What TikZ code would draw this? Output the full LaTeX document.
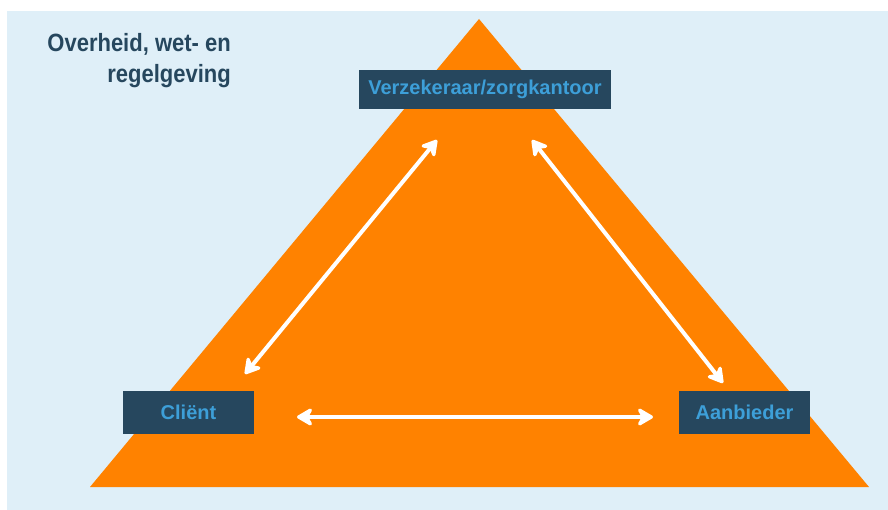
\documentclass[tikz,border=0pt]{standalone}
\usepackage{fontspec}
\setmainfont{Liberation Sans}
\newfontfamily\titlefont[FakeStretch=0.88]{Liberation Sans}
\usetikzlibrary{arrows.meta}
\definecolor{skyback}{HTML}{DFEFF8}
\definecolor{pyramid}{HTML}{FF8200}
\definecolor{navy}{HTML}{26475E}
\definecolor{labelblue}{HTML}{3D9FD8}

\begin{document}
\begin{tikzpicture}[x=1pt,y=-1pt,>={Stealth[length=19pt,width=22pt,inset=6pt,round]},
    party/.style={fill=navy,text=labelblue,font=\bfseries\fontsize{20}{24}\selectfont,
                  minimum width=131pt,minimum height=43pt,inner sep=0pt},
    link/.style={<->,draw=white,line width=4pt}]
%    background and triangle

    \useasboundingbox (0,0) rectangle (888,510);
    \fill[skyback] (7,11) rectangle (888,510);
    \fill[pyramid] (479,19) -- (869,487) -- (90,487) -- cycle;

    \node[anchor=north east,align=right,inner sep=0pt,text=navy,
          font=\titlefont\bfseries\fontsize{25}{31}\selectfont] (gov) at (231,33) {Overheid, wet- en\\regelgeving};

    \node[party,minimum width=252pt,minimum height=39pt] (insurer)  at (485,89.5)  {Verzekeraar/zorgkantoor};
    \node[party]                                         (client)   at (188.5,412.5) {Cliënt};
    \node[party]                                         (provider) at (744.5,412.5) {Aanbieder};

    \coordinate (client-up)      at (245,374);
    \coordinate (insurer-left)   at (437,140);
    \coordinate (insurer-right)  at (532,140);
    \coordinate (provider-up)    at (723,383);
    \coordinate (client-right)   at (297,417);
    \coordinate (provider-left)  at (653,417);

    \draw [link] (client-up) -- (insurer-left);
    \draw [link] (insurer-right) -- (provider-up);
    \draw [link] (client-right) -- (provider-left);
  \end{tikzpicture}
\end{document}
